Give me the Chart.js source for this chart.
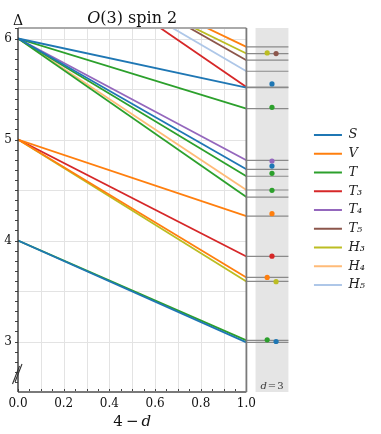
<!DOCTYPE html>
<html>
<head>
    <title>O(3) spin 2</title>
    <script src="https://cdn.jsdelivr.net/npm/chart.js"></script>
    <style>
        body { margin: 0; background: #fff; }
    </style>
</head>
<body>
    <canvas id="spinChart" width="381" height="434"></canvas>

    <script>
        // legend series
        const seriesNames = ['S', 'V', 'T', 'T₃', 'T₄', 'T₅', 'H₃', 'H₄', 'H₅'];
        const seriesColors = ['#1f77b4', '#ff7f0e', '#2ca02c', '#d62728', '#9467bd', '#8c564b', '#bcbd22', '#ffbb78', '#aec7e8'];

        // one entry per line: which series, Δ at 4-d = 0 and Δ at 4-d = 1
        const lineSeries = [0, 0, 0, 1, 1, 1, 2, 2, 2, 2, 3, 3, 4, 5, 6, 6, 7, 8];
        const deltaStart = [6, 6, 4, 5, 5, 7.0, 6, 6, 6, 4, 5, 7.07, 6, 7.07, 5, 6.96, 6, 7.0];
        const deltaEnd = [5.514, 4.705, 2.991, 4.242, 3.634, 5.917, 5.306, 4.636, 4.430, 3.011, 3.842, 5.52, 4.794, 5.785, 3.595, 5.851, 4.500, 5.676];

        // d = 3 results, the dots in the grey panel
        const d3Series = [6, 5, 0, 2, 4, 0, 2, 2, 1, 3, 1, 6, 2, 0];
        const d3Delta = [5.857, 5.851, 5.550, 5.319, 4.787, 4.737, 4.665, 4.497, 4.266, 3.845, 3.634, 3.592, 3.017, 3.000];
        const d3X = [1.091, 1.130, 1.112, 1.112, 1.112, 1.112, 1.112, 1.112, 1.112, 1.112, 1.091, 1.130, 1.091, 1.130];

        // axis labels
        const xTickValues = [0, 0.2, 0.4, 0.6, 0.8, 1.0];
        const yTickValues = [3, 4, 5, 6];

        const xMax = 1.2706;
        const panelLeft = 1.04;
        const panelRight = 1.184;
        const yMin = 2.5;
        const yMax = 6.104;
        const serif = 'DejaVu Serif';

        const datasets = [];

        // dots first so they sit on top
        datasets.push({
            label: 'd=3',
            data: d3Delta.map((v, i) => ({ x: d3X[i], y: v })),
            showLine: false,
            pointRadius: 2.6,
            pointBorderWidth: 0,
            pointBackgroundColor: d3Series.map(s => seriesColors[s]),
            order: 0
        });

        const seen = {};
        for (let i = 0; i < lineSeries.length; i++) {
            const s = lineSeries[i];
            datasets.push({
                label: seriesNames[s],
                data: [{ x: 0, y: deltaStart[i] }, { x: 1, y: deltaEnd[i] }],
                borderColor: seriesColors[s],
                backgroundColor: seriesColors[s],
                borderWidth: 1.8,
                pointRadius: 0,
                inLegend: !seen[s],
                order: 1
            });
            seen[s] = true;
        }

        // grey guide lines carrying each end value into the d = 3 panel
        for (let i = 0; i < deltaEnd.length; i++) {
            datasets.push({
                label: 'guide',
                data: [{ x: 1, y: deltaEnd[i] }, { x: panelRight, y: deltaEnd[i] }],
                borderColor: '#8a8a8a',
                borderWidth: 1.2,
                pointRadius: 0,
                order: 2
            });
        }

        function drawParts(ctx, parts, cx, baseY, size) {
            let total = 0;
            parts.forEach(p => {
                ctx.font = (p.i ? 'italic ' : '') + size + 'px "' + serif + '"';
                p.w = ctx.measureText(p.t).width;
                total += p.w;
            });
            let xx = cx - total / 2;
            ctx.textAlign = 'left';
            ctx.textBaseline = 'alphabetic';
            parts.forEach(p => {
                ctx.font = (p.i ? 'italic ' : '') + size + 'px "' + serif + '"';
                ctx.fillText(p.t, xx, baseY);
                xx += p.w;
            });
        }

        const decor = {
            id: 'decor',
            beforeDatasetsDraw(chart) {
                const { ctx, chartArea: a, scales: { x, y } } = chart;
                const x0 = x.getPixelForValue(0), x1 = x.getPixelForValue(1);
                ctx.save();
                // d = 3 panel
                const pl = x.getPixelForValue(panelLeft), pr = x.getPixelForValue(panelRight);
                ctx.fillStyle = '#e5e5e5';
                ctx.fillRect(pl, a.top, pr - pl, a.bottom - a.top);
                // grid
                ctx.strokeStyle = '#e3e3e3';
                ctx.lineWidth = 1;
                ctx.beginPath();
                for (let k = 1; k < 10; k++) {
                    const px = Math.round(x.getPixelForValue(k / 10)) + 0.5;
                    ctx.moveTo(px, a.top);
                    ctx.lineTo(px, a.bottom);
                }
                for (let v = 3; v <= 6; v += 0.5) {
                    const py = Math.round(y.getPixelForValue(v)) + 0.5;
                    ctx.moveTo(x0, py);
                    ctx.lineTo(x1, py);
                }
                ctx.stroke();
                ctx.restore();
            },
            afterDatasetsDraw(chart) {
                const { ctx, chartArea: a, scales: { x, y } } = chart;
                const x0 = x.getPixelForValue(0), x1 = x.getPixelForValue(1);
                ctx.save();
                // minor ticks
                ctx.strokeStyle = '#444';
                ctx.lineWidth = 1;
                ctx.beginPath();
                for (let k = 0; k <= 20; k++) {
                    const px = Math.round(x.getPixelForValue(k / 20)) + 0.5;
                    ctx.moveTo(px, a.bottom);
                    ctx.lineTo(px, a.bottom - 3);
                }
                for (let k = 26; k <= 61; k++) {
                    const py = Math.round(y.getPixelForValue(k / 10)) + 0.5;
                    ctx.moveTo(x0, py);
                    ctx.lineTo(x0 - 3, py);
                }
                ctx.stroke();
                // spines
                ctx.lineWidth = 1.8;
                ctx.strokeStyle = '#aaaaaa';
                ctx.beginPath(); ctx.moveTo(x0, a.top); ctx.lineTo(x1, a.top); ctx.stroke();
                ctx.strokeStyle = '#7a7a7a';
                ctx.beginPath(); ctx.moveTo(x1, a.top); ctx.lineTo(x1, a.bottom); ctx.stroke();
                ctx.beginPath(); ctx.moveTo(x0, a.bottom); ctx.lineTo(x1, a.bottom); ctx.stroke();
                ctx.lineWidth = 1.4;
                ctx.strokeStyle = '#333';
                ctx.beginPath(); ctx.moveTo(x0, a.top); ctx.lineTo(x0, a.bottom); ctx.stroke();
                // broken axis marks
                ctx.lineWidth = 1.1;
                ctx.beginPath();
                ctx.moveTo(x0 - 5.5, a.bottom - 8); ctx.lineTo(x0 + 1.5, a.bottom - 26);
                ctx.moveTo(x0 - 3, a.bottom - 10); ctx.lineTo(x0 + 4, a.bottom - 28);
                ctx.stroke();
                // texts
                ctx.fillStyle = '#111';
                const cx = (x0 + x1) / 2;
                drawParts(ctx, [{ t: 'O', i: true }, { t: '(3) spin 2' }], cx, a.top - 5, 16);
                drawParts(ctx, [{ t: 'Δ' }], x0, a.top - 3, 14);
                drawParts(ctx, [{ t: '4\u2009−\u2009' }, { t: 'd', i: true }], cx, a.bottom + 34, 15);
                ctx.fillStyle = '#333';
                drawParts(ctx, [{ t: 'd', i: true }, { t: '\u200a=\u200a3' }], (x.getPixelForValue(panelLeft) + x.getPixelForValue(panelRight)) / 2, a.bottom - 3, 10);
                ctx.restore();
            }
        };

        new Chart(document.getElementById('spinChart').getContext('2d'), {
            type: 'line',
            data: { datasets: datasets },
            options: {
                responsive: false,
                animation: false,
                layout: { padding: { top: 28, right: 6, left: 0, bottom: 0 } },
                plugins: {
                    tooltip: { enabled: false },
                    legend: {
                        position: 'right',
                        fullSize: false,
                        labels: {
                            filter: (item, data) => !!data.datasets[item.datasetIndex].inLegend,
                            usePointStyle: true,
                            pointStyle: 'line',
                            pointStyleWidth: 28,
                            padding: 5.75,
                            color: '#222',
                            font: { family: serif, style: 'italic', size: 13 }
                        }
                    }
                },
                scales: {
                    x: {
                        type: 'linear',
                        min: 0,
                        max: xMax,
                        afterFit: s => { s.height = 42; },
                        afterBuildTicks: s => { s.ticks = xTickValues.map(v => ({ value: v })); },
                        grid: { display: false, drawTicks: false },
                        border: { display: false },
                        ticks: {
                            padding: 5,
                            color: '#111',
                            font: { family: serif, size: 12 },
                            callback: v => v.toFixed(1)
                        }
                    },
                    y: {
                        min: yMin,
                        max: yMax,
                        afterFit: s => { s.width = 18; },
                        afterBuildTicks: s => { s.ticks = yTickValues.map(v => ({ value: v })); },
                        grid: { display: false, drawTicks: false },
                        border: { display: false },
                        ticks: {
                            padding: 6,
                            color: '#111',
                            font: { family: serif, size: 12 },
                            callback: v => String(v)
                        }
                    }
                }
            },
            plugins: [decor]
        });
    </script>
</body>
</html>
